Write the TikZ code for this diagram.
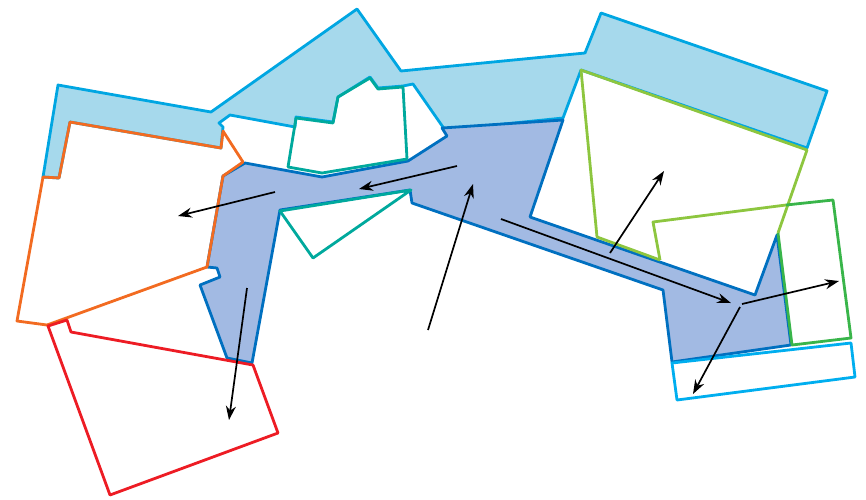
\documentclass[tikz,border=0pt]{standalone}
\usepackage{tikz}
\usetikzlibrary{arrows.meta}
\definecolor{cBand}{HTML}{A6D9EC}
\definecolor{cBandB}{HTML}{00A6E2}
\definecolor{cCore}{HTML}{A2BAE3}
\definecolor{cCoreB}{HTML}{0070C0}
\definecolor{cOrg}{HTML}{F26B21}
\definecolor{cRed}{HTML}{ED1C24}
\definecolor{cTeal}{HTML}{00A99D}
\definecolor{cLime}{HTML}{8DC63F}
\definecolor{cGrn}{HTML}{39B54A}
\definecolor{cCyan}{HTML}{00AEEF}

\begin{document}
\begin{tikzpicture}[x=1pt, y=-1pt,
    edge/.style={line width=2.8pt, line join=round},
    band/.style ={edge, fill=cBand, draw=cBandB},
    core/.style ={edge, fill=cCore, draw=cCoreB},
    plot/.style ={edge, fill=none},
    ar/.style={-{Stealth[length=14pt,width=10pt]}, line width=1.7pt},
]
\useasboundingbox (0,0) rectangle (866,499);

% === upper band ===
\draw[band] (58,85) -- (211,112) -- (357,9) -- (401,71) -- (585,53) -- (601,13)
  -- (827,91) -- (807,148) -- (581,70) -- (563,118) -- (445,130) -- (413,84)
  -- (403,86) -- (378,88) -- (370,77) -- (338,97) -- (333,122) -- (296,117)
  -- (295,127) -- (230,115) -- (219,123) -- (223,127) -- (221,148) -- (70,122)
  -- (59,178) -- (43,177) -- cycle;

% === central core ===
\draw[core] (245,163) -- (322,177) -- (408,161) -- (447,136) -- (442,128)
  -- (563,120) -- (530,217) -- (755,295) -- (777,235) -- (791,345)
  -- (672,362) -- (663,290) -- (412,203) -- (410,190) -- (280,210)
  -- (252,363) -- (227,358) -- (200,285) -- (220,277) -- (217,268)
  -- (207,267) -- (223,176) -- cycle;

% === side plots ===
\draw[plot, cOrg] (70,122) -- (221,148) -- (223,131) -- (243,162) -- (223,176)
  -- (207,267) -- (47,325) -- (17,321) -- (43,177) -- (59,178) -- cycle;
\draw[plot, cRed] (48,326) -- (67,320) -- (71,332) -- (253,365) -- (278,433)
  -- (110,495) -- cycle;
\draw[plot, cTeal] (288,167) -- (296,118) -- (333,123) -- (338,97) -- (370,78)
  -- (378,89) -- (403,87) -- (407,159) -- (322,173) -- cycle;
\draw[plot, cTeal] (280,211) -- (411,190) -- (313,258) -- cycle;
\draw[plot, cLime] (660,260) -- (597,237) -- (581,70) -- (807,150) -- (778,233);
\draw[plot, cLime] (660,260) -- (653,222) -- (786,205);
\draw[plot, cGrn] (786,205) -- (833,200) -- (851,338) -- (792,345) -- (778,233);
\draw[plot, cCyan] (672,363) -- (851,343) -- (855,377) -- (677,400) -- cycle;

% === arrows ===
\coordinate (a1s) at (275,192);  \coordinate (a1e) at (178,216);
\coordinate (a2s) at (457,166);  \coordinate (a2e) at (359,189);
\coordinate (a3s) at (428,330);  \coordinate (a3e) at (473,184);
\coordinate (a4s) at (247,288);  \coordinate (a4e) at (229,420);
\coordinate (a5s) at (501,219);  \coordinate (a5e) at (731,303);
\coordinate (a6s) at (610,253);  \coordinate (a6e) at (664,171);
\coordinate (a7s) at (742,304);  \coordinate (a7e) at (839,281);
\coordinate (a8s) at (740,307);  \coordinate (a8e) at (693,394);

\foreach \k in {1,...,8}
  \draw[ar] (a\k s) -- (a\k e);

\end{tikzpicture}
\end{document}
